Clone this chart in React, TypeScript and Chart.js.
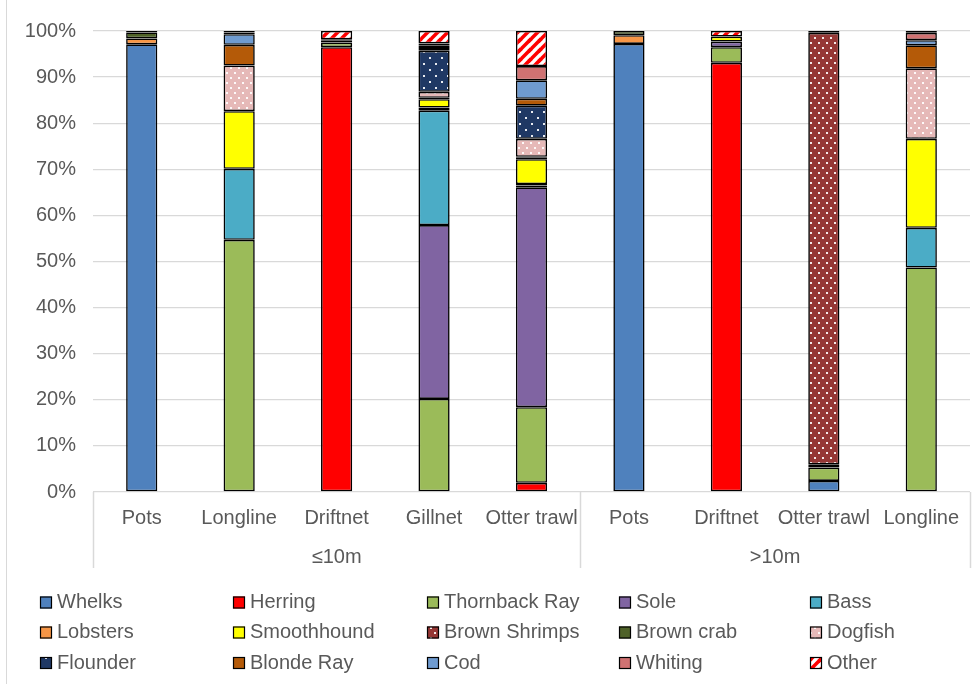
import React, { useEffect, useRef } from "react";
import { Chart, registerables } from "chart.js";

Chart.register(...registerables);

const categories = ["Pots", "Longline", "Driftnet", "Gillnet", "Otter trawl", "Pots", "Driftnet", "Otter trawl", "Longline"];
const groups = ["≤10m", ">10m"];
const groupSizes = [5, 4];
const yTicks = [0, 10, 20, 30, 40, 50, 60, 70, 80, 90, 100];

const whelks = [97.1, 0, 0, 0, 0, 97.2, 0, 2.4, 0];
const herring = [0, 0, 96.5, 0, 2.0, 0, 93.1, 0, 0];
const thornbackRay = [0, 54.7, 1.0, 20.2, 16.4, 0, 3.4, 2.9, 48.7];
const sole = [0, 0, 0.4, 37.7, 47.7, 0, 1.2, 0.7, 0];
const bass = [0, 15.4, 0, 24.8, 0.4, 0, 0, 0, 8.6];
const lobsters = [1.3, 0, 0, 0.7, 0.3, 1.9, 0, 0, 0];
const smoothhound = [0, 12.5, 0, 1.8, 5.4, 0, 1.1, 0, 19.3];
const brownShrimps = [0, 0, 0, 0, 0.3, 0, 0, 93.6, 0];
const brownCrab = [1.3, 0, 0.3, 0.3, 0.2, 0.9, 0, 0, 0];
const dogfish = [0, 9.9, 0, 1.3, 3.9, 0, 0, 0, 15.3];
const flounder = [0, 0, 0, 8.9, 7.2, 0, 0, 0, 0];
const blondeRay = [0, 4.5, 0, 0.6, 1.5, 0, 0, 0, 5.0];
const cod = [0, 2.3, 0, 0.6, 4.0, 0, 0, 0, 1.1];
const whiting = [0, 0.4, 0, 0.4, 3.1, 0, 0, 0, 1.6];
const other = [0.3, 0.3, 1.8, 2.7, 7.6, 0, 1.2, 0.4, 0.4];

const seriesNames = ["Whelks", "Herring", "Thornback Ray", "Sole", "Bass", "Lobsters", "Smoothhound", "Brown Shrimps", "Brown crab", "Dogfish", "Flounder", "Blonde Ray", "Cod", "Whiting", "Other"];
const seriesValues = [whelks, herring, thornbackRay, sole, bass, lobsters, smoothhound, brownShrimps, brownCrab, dogfish, flounder, blondeRay, cod, whiting, other];

const FONT = '"Liberation Sans", Arial, sans-serif';
const TEXT = "#595959";
const GRID = "#D9D9D9";

function makePattern(w: number, h: number, draw: (g: CanvasRenderingContext2D) => void) {
  const c = document.createElement("canvas");
  c.width = w;
  c.height = h;
  const g = c.getContext("2d")!;
  draw(g);
  return g.createPattern(c, "repeat")!;
}

function dots(bg: string, w: number, h: number, pts: number[][], size: number, dot = "rgba(255,255,255,0.9)") {
  return makePattern(w, h, (g) => {
    g.fillStyle = bg;
    g.fillRect(0, 0, w, h);
    g.fillStyle = dot;
    pts.forEach(([x, y]) => g.fillRect(x, y, size, size));
  });
}

function stripes() {
  return makePattern(10, 10, (g) => {
    g.fillStyle = "#FFFFFF";
    g.fillRect(0, 0, 10, 10);
    g.strokeStyle = "#FF0000";
    g.lineWidth = 3.6;
    const segs = [
      [0, 10, 10, 0],
      [-5, 5, 5, -5],
      [5, 15, 15, 5],
      [-10, 10, 10, -10],
      [0, 20, 20, 0],
    ];
    segs.forEach(([a, b, c, d]) => {
      g.beginPath();
      g.moveTo(a, b);
      g.lineTo(c, d);
      g.stroke();
    });
  });
}

export default function App() {
  const ref = useRef<HTMLCanvasElement | null>(null);

  useEffect(() => {
    const canvas = ref.current!;
    const fills: (string | CanvasPattern)[] = [
      "#4F81BD",
      "#FF0000",
      "#9BBB59",
      "#8064A2",
      "#4BACC6",
      "#F79646",
      "#FFFF00",
      dots("#953735", 8, 10, [[2, 2], [6, 7]], 2),
      "#4F6228",
      dots("#E6B9B8", 8, 10, [[2, 2], [6, 7]], 2),
      dots("#1F3864", 12, 12, [[3, 3], [9, 9]], 2),
      "#B45A08",
      "#6F9BD0",
      "#D07272",
      stripes(),
    ];

    const datasets = seriesNames.map((name, i) => ({
      label: name,
      data: seriesValues[i].map((v) => (v === 0 ? null : v)),
      backgroundColor: fills[i],
      borderColor: "#000000",
      borderWidth: 1.6,
      borderSkipped: false as const,
      barPercentage: 0.32,
      categoryPercentage: 1,
    }));

    const decor = {
      id: "decor",
      afterDraw(chart: any) {
        const ctx = chart.ctx as CanvasRenderingContext2D;
        const area = chart.chartArea;
        const xs = chart.scales.x;
        ctx.save();
        ctx.strokeStyle = GRID;
        ctx.lineWidth = 1;
        ctx.beginPath();
        ctx.moveTo(6.5, 0);
        ctx.lineTo(6.5, chart.height);
        ctx.stroke();
        const bounds: number[] = [area.left];
        let idx = 0;
        groupSizes.forEach((n) => {
          idx += n;
          if (idx < categories.length) {
            bounds.push((xs.getPixelForValue(idx - 1) + xs.getPixelForValue(idx)) / 2);
          }
        });
        bounds.push(area.right);
        ctx.strokeStyle = GRID;
        ctx.lineWidth = 1.5;
        bounds.forEach((bx) => {
          ctx.beginPath();
          ctx.moveTo(Math.round(bx) + 0.5, area.bottom);
          ctx.lineTo(Math.round(bx) + 0.5, area.bottom + 76);
          ctx.stroke();
        });
        ctx.fillStyle = TEXT;
        ctx.font = `20px ${FONT}`;
        ctx.textAlign = "center";
        ctx.textBaseline = "middle";
        groups.forEach((g, i) => {
          ctx.fillText(g, (bounds[i] + bounds[i + 1]) / 2, area.bottom + 65);
        });
        const colX = [40, 233, 427, 619, 810];
        const rowY = [602.5, 632.5, 663];
        ctx.textAlign = "left";
        chart.data.datasets.forEach((ds: any, i: number) => {
          const c = i % 5;
          const r = Math.floor(i / 5);
          const x = colX[c];
          const y = rowY[r];
          ctx.fillStyle = ds.backgroundColor;
          ctx.fillRect(x, y - 6, 12, 12);
          ctx.strokeStyle = "#000000";
          ctx.lineWidth = 1.2;
          ctx.strokeRect(x + 0.5, y - 5.5, 11, 11);
          ctx.fillStyle = TEXT;
          ctx.fillText(ds.label, x + 17, y);
        });
        ctx.restore();
      },
    };

    const chart = new Chart(canvas, {
      type: "bar",
      data: { labels: categories, datasets },
      plugins: [decor],
      options: {
        responsive: false,
        animation: false,
        layout: { padding: { top: 31, right: 7, left: 0, bottom: 0 } },
        plugins: {
          legend: { display: false },
          tooltip: { enabled: false },
        },
        scales: {
          x: {
            stacked: true,
            grid: { display: false, drawTicks: false },
            border: { display: false },
            ticks: {
              color: TEXT,
              font: { family: FONT, size: 20 },
              padding: 14,
              maxRotation: 0,
              autoSkip: false,
            },
            afterFit(scale: any) {
              scale.height = 192;
            },
          },
          y: {
            stacked: true,
            min: 0,
            max: 100,
            grid: { color: GRID, lineWidth: 1.3, drawTicks: false },
            border: { display: false },
            afterBuildTicks(scale: any) {
              scale.ticks = yTicks.map((v) => ({ value: v }));
            },
            ticks: {
              color: TEXT,
              font: { family: FONT, size: 20 },
              padding: 17,
              callback: (v: any) => `${v}%`,
            },
            afterFit(scale: any) {
              scale.width = 93;
            },
          },
        },
      },
    });
    return () => chart.destroy();
  }, []);

  return (
    <div style={{ position: "absolute", left: 0, top: 0, width: 977, height: 684, background: "#fff" }}>
      <canvas ref={ref} width={977} height={684} style={{ width: 977, height: 684, display: "block" }} />
    </div>
  );
}
